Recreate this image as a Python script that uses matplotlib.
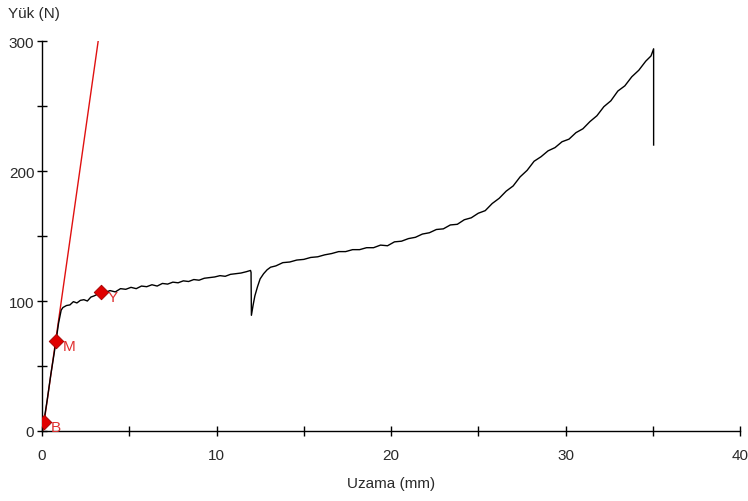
import matplotlib
matplotlib.use("Agg")
import matplotlib.pyplot as plt
from matplotlib.ticker import MultipleLocator

plt.rcParams['font.family'] = ['Liberation Sans', 'DejaVu Sans']

# Load-elongation curve (mm, N)
elongation = [0.0, 0.05, 0.1, 0.3, 0.5, 0.7, 0.8, 0.95, 1.1, 1.2, 1.4, 1.6, 1.8, 2.0,
              2.2, 2.4, 2.6, 2.8, 3.0, 3.3, 3.6, 3.9, 4.2, 4.5, 4.8, 5.1, 5.4, 5.7,
              6.0, 6.3, 6.6, 6.9, 7.2, 7.5, 7.8, 8.1, 8.4, 8.7, 9.0, 9.3, 9.6, 9.9,
              10.2, 10.5, 10.8, 11.1, 11.4, 11.7, 11.95, 11.98, 12.0, 12.1, 12.2,
              12.35, 12.5, 12.7, 12.9, 13.1, 13.4, 13.8, 14.2, 14.6, 15.0, 15.4,
              15.8, 16.2, 16.6, 17.0, 17.4, 17.8, 18.2, 18.6, 19.0, 19.4, 19.8,
              20.2, 20.6, 21.0, 21.4, 21.8, 22.2, 22.6, 23.0, 23.4, 23.8, 24.2,
              24.6, 25.0, 25.4, 25.8, 26.2, 26.6, 27.0, 27.4, 27.8, 28.2, 28.6,
              29.0, 29.4, 29.8, 30.2, 30.6, 31.0, 31.4, 31.8, 32.2, 32.6, 33.0,
              33.4, 33.8, 34.2, 34.6, 34.9, 35.05, 35.05]
load = [0.0, 3.0, 7.0, 24.0, 43.0, 60.0, 69.0, 83.0, 93.0, 95.0, 96.5, 97.0, 99.5, 98.5,
        100.5, 101.0, 100.0, 103.0, 104.0, 106.0, 106.5, 108.0, 107.0, 109.5, 109.0,
        110.5, 109.5, 111.5, 111.0, 112.5, 111.5, 113.5, 113.0, 114.5, 114.0, 115.5,
        115.0, 116.5, 116.0, 117.5, 118.0, 118.5, 119.5, 119.0, 120.5, 121.0, 121.5,
        122.5, 123.5, 122.0, 89.0, 97.0, 104.0, 111.0, 117.0, 121.0, 124.0, 126.0,
        127.0, 129.5, 130.0, 131.5, 132.0, 133.5, 134.0, 135.5, 136.5, 138.0, 138.0,
        139.5, 139.5, 141.0, 141.0, 143.0, 142.5, 145.5, 146.0, 148.0, 149.0, 151.5,
        152.5, 155.0, 155.5, 158.5, 159.0, 162.5, 164.0, 167.5, 169.5, 175.0, 179.0,
        184.5, 188.5, 195.5, 200.5, 207.5, 211.0, 215.5, 218.0, 222.5, 224.5, 229.5,
        232.5, 238.0, 242.5, 249.5, 254.0, 261.5, 265.5, 272.5, 277.5, 284.5, 288.5,
        294.0, 220.0]

# Modulus line
modulus_x = [0.05, 3.22]
modulus_y = [0.0, 300.0]

# Marked points
point_names = ['B', 'M', 'Y']
point_x = [0.11, 0.8, 3.36]
point_y = [7.0, 69.0, 107.0]

fig = plt.figure(figsize=(7.48, 5.02), dpi=100)
ax = fig.add_axes([42 / 748, 70 / 502, 698 / 748, 390 / 502])

ax.plot(modulus_x, modulus_y, color='#e01010', lw=1.0, zorder=2)
ax.plot(elongation, load, color='black', lw=1.0, zorder=3)
ax.scatter(point_x, point_y, marker='D', s=55, color='#e00000',
           edgecolors='#a00000', linewidths=0.6, zorder=4)
for name, px, py in zip(point_names, point_x, point_y):
    ax.annotate(name, (px, py), xytext=(5, -6.5), textcoords='offset points',
                color='#e03030', fontsize=11, zorder=5)

ax.set_xlim(0, 40)
ax.set_ylim(0, 300)
ax.xaxis.set_major_locator(MultipleLocator(10))
ax.xaxis.set_minor_locator(MultipleLocator(5))
ax.yaxis.set_major_locator(MultipleLocator(100))
ax.yaxis.set_minor_locator(MultipleLocator(50))
ax.tick_params(which='both', direction='inout', length=7, width=1, colors='black',
               labelsize=11, labelcolor='#2a2a2a')
ax.tick_params(axis='x', pad=8.5)
ax.tick_params(axis='y', pad=2)
for side in ('top', 'right'):
    ax.spines[side].set_visible(False)
ax.spines['left'].set_linewidth(1.0)
ax.spines['bottom'].set_linewidth(1.0)

fig.text(34 / 748, 1 - 14 / 502, 'Yük (N)', ha='center', va='center',
         fontsize=11, color='#2a2a2a')
ax.set_xlabel('Uzama (mm)', fontsize=11, color='#2a2a2a', labelpad=10)

fig.savefig('out.png', dpi=100)
